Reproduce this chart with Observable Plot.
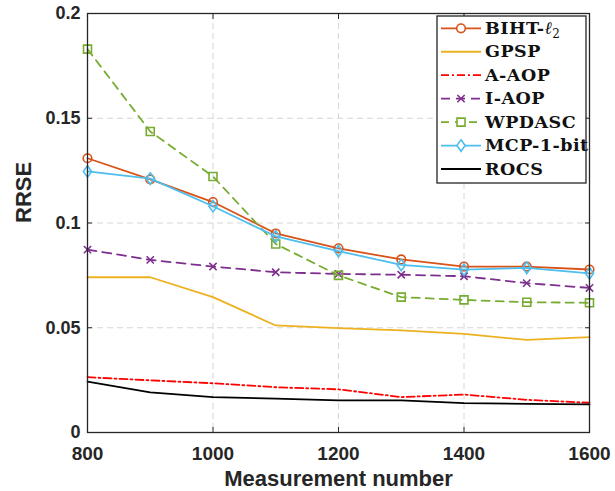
<!DOCTYPE html>
<html><head><meta charset="utf-8">
<script src="https://cdn.jsdelivr.net/npm/d3@7"></script>
<script src="https://cdn.jsdelivr.net/npm/@observablehq/plot@0.6"></script>
<style>
body{margin:0;background:#fff;}
#wrap{position:relative;width:615px;height:491px;overflow:hidden;}
</style></head><body><div id="wrap"></div>
<script>
// ---- data ----
const measurements = [800, 900, 1000, 1100, 1200, 1300, 1400, 1500, 1600];
const bihtL2  = [0.1309, 0.1208, 0.1100, 0.0950, 0.0879, 0.0826, 0.0792, 0.0792, 0.0778];
const gpsp    = [0.0741, 0.0741, 0.0646, 0.0511, 0.0498, 0.0487, 0.0471, 0.0442, 0.0455];
const aAop    = [0.0264, 0.0249, 0.0235, 0.0216, 0.0206, 0.0169, 0.0181, 0.0156, 0.0142];
const iAop    = [0.0873, 0.0824, 0.0792, 0.0765, 0.0757, 0.0753, 0.0746, 0.0713, 0.0690];
const wpdasc  = [0.1830, 0.1437, 0.1222, 0.0900, 0.0750, 0.0646, 0.0633, 0.0622, 0.0619];
const mcp1bit = [0.1246, 0.1212, 0.1080, 0.0936, 0.0866, 0.0800, 0.0777, 0.0786, 0.0760];
const rocs    = [0.0243, 0.0192, 0.0169, 0.0162, 0.0153, 0.0153, 0.0140, 0.0137, 0.0134];
const seriesNames = ["BIHT-ℓ2", "GPSP", "A-AOP", "I-AOP", "WPDASC", "MCP-1-bit", "ROCS"];
const seriesValues = [bihtL2, gpsp, aAop, iAop, wpdasc, mcp1bit, rocs];
const xTicks = [800, 1000, 1200, 1400, 1600];
const xTickLabels = ["800", "1000", "1200", "1400", "1600"];
const yTicks = [0, 0.05, 0.1, 0.15, 0.2];
const yTickLabels = ["0", "0.05", "0.1", "0.15", "0.2"];
const xLabel = "Measurement number";
const yLabel = "RRSE";

// ---- styles ----
const tallDiamond = {draw(ctx, size) {
  const r = Math.sqrt(size / Math.PI), h = 1.25 * r, w = 0.9 * r;
  ctx.moveTo(0, -h); ctx.lineTo(w, 0); ctx.lineTo(0, h); ctx.lineTo(-w, 0); ctx.closePath();
}};
const styles = [
  {color: "#D95319", dash: null, symbol: "circle", r: 4.3},
  {color: "#EDB120", dash: null, symbol: null},
  {color: "#FF0000", dash: "8,3,2,3", symbol: null},
  {color: "#7E2F8E", dash: "9,6", symbol: "times", r: 3.4},
  {color: "#77AC30", dash: "8,6", symbol: "square", r: 4.5},
  {color: "#4DBEEE", dash: null, symbol: tallDiamond, r: 4.6},
  {color: "#000000", dash: null, symbol: null}
];

const rows = seriesNames.flatMap((name, k) =>
  measurements.map((m, i) => ({x: m, y: seriesValues[k][i], name})));

const sans = "Liberation Sans, Arial, Helvetica, sans-serif";
const marks = [
  Plot.gridX(xTicks, {stroke: "#d6d6d6", strokeOpacity: 1, strokeDasharray: "6,4"}),
  Plot.gridY(yTicks, {stroke: "#d6d6d6", strokeOpacity: 1, strokeDasharray: "6,4"})
];
seriesNames.forEach((name, k) => {
  const st = styles[k];
  const data = rows.filter(d => d.name === name);
  marks.push(Plot.line(data, {x: "x", y: "y", stroke: st.color, strokeWidth: 1.8,
    strokeDasharray: st.dash, strokeLinejoin: "round"}));
  if (st.symbol) marks.push(Plot.dot(data, {x: "x", y: "y", symbol: st.symbol, r: st.r,
    stroke: st.color, fill: "none", strokeWidth: 1.6}));
});
marks.push(
  Plot.frame({stroke: "#262626", strokeWidth: 1.3}),
  Plot.axisX(xTicks, {anchor: "bottom", tickSize: -5, tickFormat: () => "", label: null}),
  Plot.axisX(xTicks, {anchor: "top", tickSize: -5, tickFormat: () => "", label: null}),
  Plot.axisY(yTicks, {anchor: "left", tickSize: -5, tickFormat: () => "", label: null}),
  Plot.axisY(yTicks, {anchor: "right", tickSize: -5, tickFormat: () => "", label: null}),
  Plot.axisX(xTicks, {anchor: "bottom", tickSize: 0, tickPadding: 13.5, label: null,
    tickFormat: d => xTickLabels[xTicks.indexOf(d)],
    fontFamily: sans, fontSize: 19, fontWeight: "bold", fill: "#262626"}),
  Plot.axisY(yTicks, {anchor: "left", tickSize: 0, tickPadding: 7, label: null,
    tickFormat: d => yTickLabels[yTicks.indexOf(d)],
    fontFamily: sans, fontSize: 18, fontWeight: "bold", fill: "#262626"}),
  Plot.text([xLabel], {frameAnchor: "bottom", lineAnchor: "middle", dy: 46, fontFamily: sans, fontSize: 22,
    fontWeight: "bold", fill: "#262626"}),
  Plot.text([yLabel], {frameAnchor: "left", lineAnchor: "middle", dx: -64, rotate: -90, fontFamily: sans, fontSize: 22,
    fontWeight: "bold", fill: "#262626"})
);

const chart = Plot.plot({
  width: 615, height: 491,
  marginLeft: 87, marginRight: 26, marginTop: 13, marginBottom: 59,
  x: {domain: [800, 1600], label: null},
  y: {domain: [0, 0.2], label: null},
  style: {background: "white", color: "#262626"},
  marks
});
document.getElementById("wrap").appendChild(chart);

// ---- legend (overlay) ----
const leg = d3.select("#wrap").append("svg")
  .attr("width", 615).attr("height", 491)
  .style("position", "absolute").style("left", "0px").style("top", "0px");
leg.append("rect").attr("x", 437).attr("y", 16).attr("width", 149).attr("height", 167)
  .attr("fill", "white").attr("stroke", "#262626").attr("stroke-width", 1.3);
const serif = "DejaVu Serif, serif";
seriesNames.forEach((name, k) => {
  const st = styles[k];
  const cy = 28.3 + k * 23.45;
  leg.append("line").attr("x1", 441).attr("x2", 481).attr("y1", cy).attr("y2", cy)
    .attr("stroke", st.color).attr("stroke-width", 1.8)
    .attr("stroke-dasharray", st.dash);
  if (st.symbol) {
    const sym = typeof st.symbol === "string"
      ? {circle: d3.symbolCircle, times: d3.symbolTimes, square: d3.symbolSquare}[st.symbol]
      : st.symbol;
    leg.append("path").attr("transform", `translate(461,${cy})`)
      .attr("d", d3.symbol(sym, Math.PI * st.r * st.r)())
      .attr("fill", "white").attr("stroke", st.color).attr("stroke-width", 1.6);
  }
  const t = leg.append("text").attr("x", 485).attr("y", cy + 5.7)
    .attr("font-family", serif).attr("font-size", 17.5).attr("font-weight", "bold")
    .attr("letter-spacing", 0.5).attr("fill", "#111");
  if (name === "BIHT-ℓ2") {
    t.append("tspan").text("BIHT-");
    t.append("tspan").text("ℓ").attr("font-style", "italic").attr("font-weight", "normal");
    t.append("tspan").text("2").attr("font-size", 12).attr("font-weight", "normal").attr("dy", 4);
  } else {
    t.text(name);
  }
});
</script>
</body></html>
